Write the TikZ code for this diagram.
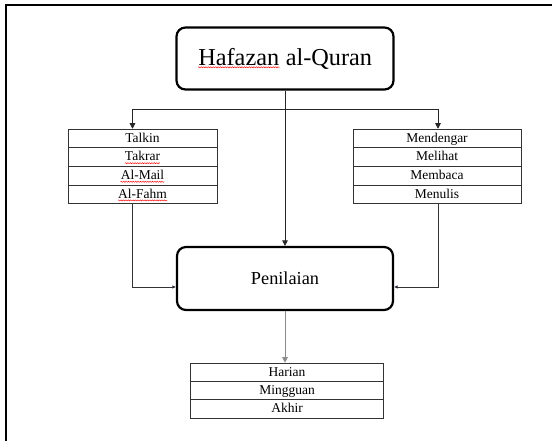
\documentclass[tikz,border=0pt]{standalone}
\usepackage{fontspec}
\setmainfont{Liberation Serif}
\usetikzlibrary{arrows.meta,decorations.pathmorphing}

\tikzset{
  titlebox/.style={draw,line width=2.2pt,rounded corners=9pt,inner sep=0pt,
    minimum width=217pt,minimum height=62pt},
  cell/.style={draw=black!80,line width=0.7pt,inner sep=0pt,minimum height=18.6pt,
    text height=9pt,text depth=1pt,font=\fontsize{13.5}{14}\selectfont},
  link/.style={draw=black!85,line width=0.8pt,-{Triangle[length=5.5pt,width=5.5pt]}},
  sidelink/.style={draw=black!80,line width=0.8pt,-{Latex[length=3.5pt,width=3.5pt,fill=blue!55!black]}},
  wordbox/.style={draw=none,inner sep=0pt,minimum width=0pt,minimum height=0pt,
    text height=,text depth=,sharp corners,anchor=base},
  spell/.style={draw=red,line width=0.45pt,sharp corners,decorate,
    decoration={snake,amplitude=0.55pt,segment length=2.4pt}}
}
% wavy red mark under a word, as in the scan
\newcommand{\typo}[1]{\tikz[baseline=(w.base),sharp corners]{\node[wordbox] (w) {#1};
  \draw[spell] ([yshift=-2.2pt]w.base west) -- ([yshift=-2.2pt]w.base east);}}

\begin{document}
\begin{tikzpicture}[x=1pt,y=-1pt]
\useasboundingbox (0,0) rectangle (552,441);
% frame (top and left edge only)
\draw[line width=2pt] (6,441) -- (6,5) -- (552,5);

\node[titlebox,font=\fontsize{24.3}{26}\selectfont] (hq) at (285,58.5) {\typo{Hafazan} al-Quran};
\node[titlebox,minimum width=216pt,minimum height=63pt,font=\fontsize{18.3}{20}\selectfont] (pn) at (285,278.5) {Penilaian};

% left list
\node[cell,minimum width=149pt] (t1) at (142.5,138.4) {Talkin};
\node[cell,minimum width=149pt] (t2) at (142.5,157) {\typo{Takrar}};
\node[cell,minimum width=149pt] (t3) at (142.5,175.6) {\typo{Al-Mail}};
\node[cell,minimum width=149pt] (t4) at (142.5,194.2) {\typo{Al-Fahm}};

% right list
\node[cell,minimum width=168pt] (m1) at (437,138.4) {Mendengar};
\node[cell,minimum width=168pt] (m2) at (437,157) {Melihat};
\node[cell,minimum width=168pt] (m3) at (437,175.6) {Membaca};
\node[cell,minimum width=168pt] (m4) at (437,194.2) {Menulis};

% bottom list
\node[cell,minimum width=193pt,minimum height=18.3pt] (h1) at (287,372.2) {Harian};
\node[cell,minimum width=193pt,minimum height=18.3pt] (h2) at (287,390.5) {Mingguan};
\node[cell,minimum width=193pt,minimum height=18.3pt] (h3) at (287,408.8) {Akhir};

\coordinate (split) at (285,109);
\draw[link] (hq.south) -- (pn.north);
\draw[link] (split) -| ([xshift=-10pt]t1.north);
\draw[link] (split) -| ([xshift=1pt]m1.north);
\draw[sidelink] ([xshift=-10pt]t4.south) |- ([yshift=-8.5pt]pn.west);
\draw[sidelink] ([xshift=1pt]m4.south) |- ([yshift=-8.5pt]pn.east);
\draw[link,draw=black!45] (pn.south) -- ([xshift=-2pt]h1.north);
\end{tikzpicture}
\end{document}
